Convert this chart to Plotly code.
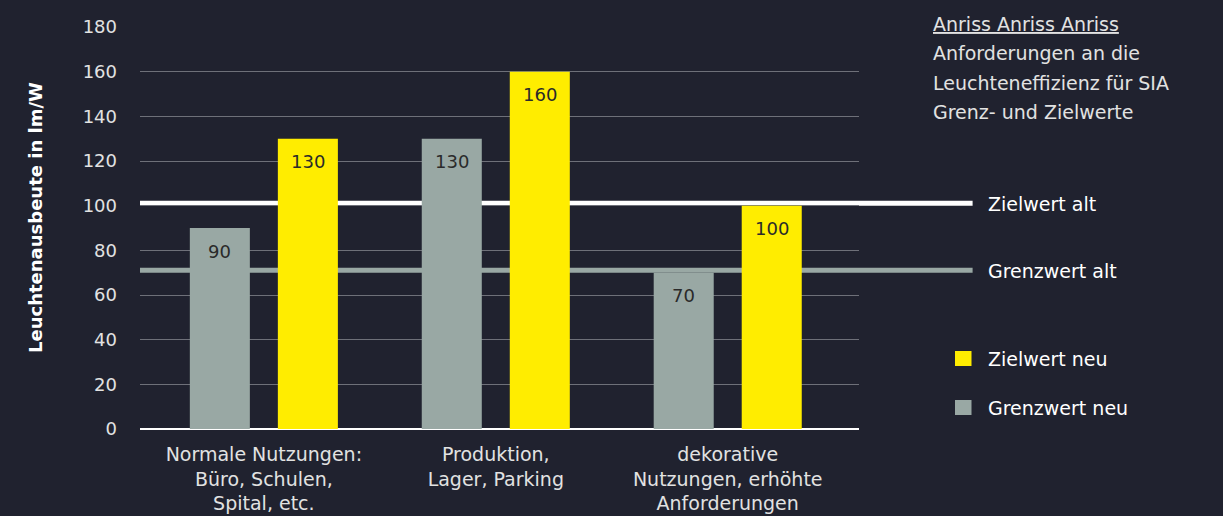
import plotly.graph_objects as go

categories = ["Normale Nutzungen:<br>Büro, Schulen,<br>Spital, etc.",
              "Produktion,<br>Lager, Parking",
              "dekorative<br>Nutzungen, erhöhte<br>Anforderungen"]
grenzwert_neu = [90, 130, 70]
zielwert_neu = [130, 160, 100]
zielwert_alt = 100
grenzwert_alt = 70
y_ticks = [0, 20, 40, 60, 80, 100, 120, 140, 160, 180]
title_lines = ["<u>Anriss Anriss Anriss</u>", "Anforderungen an die",
               "Leuchteneffizienz für SIA", "Grenz- und Zielwerte"]

YELLOW = "#ffed00"
GREY = "#99a8a4"
BG = "#20222f"
TXT = "#e2e2e2"
FONT = "DejaVu Sans"

fig = go.Figure()
fig.add_trace(go.Bar(x=categories, y=grenzwert_neu, name="Grenzwert neu",
                     marker=dict(color=GREY, line=dict(width=0)), showlegend=False))
fig.add_trace(go.Bar(x=categories, y=zielwert_neu, name="Zielwert neu",
                     marker=dict(color=YELLOW, line=dict(width=0)), showlegend=False))

annotations = []
for i, c in enumerate(categories):
    for vals, off in ((grenzwert_neu, -0.19), (zielwert_neu, 0.19)):
        annotations.append(dict(x=i + off, y=vals[i], xref="x", yref="y", text=str(vals[i]),
                                showarrow=False, yshift=-23, yanchor="middle",
                                font=dict(family=FONT, size=18, color="#2a2a2a")))

# reference lines (drawn between gridlines and bars)
shapes = []
for val, col in ((zielwert_alt, "white"), (grenzwert_alt, GREY)):
    shapes.append(dict(type="rect", xref="paper", x0=0, x1=1.158, yref="y",
                       ysizemode="pixel", yanchor=val, y0=0, y1=5,
                       fillcolor=col, line=dict(width=0), layer="between"))

px_x = lambda px: (px - 140) / 719
px_y = lambda py: (429 - py) / 402

lab = dict(showarrow=False, xanchor="left", yanchor="middle")
annotations += [
    dict(x=px_x(986), y=zielwert_alt, xref="paper", yref="y", yshift=2, text="Zielwert alt",
         font=dict(family=FONT, size=19, color="white"), **lab),
    dict(x=px_x(986), y=grenzwert_alt, xref="paper", yref="y", yshift=2, text="Grenzwert alt",
         font=dict(family=FONT, size=19, color="white"), **lab),
    dict(x=px_x(986), y=px_y(359), xref="paper", yref="paper", text="Zielwert neu",
         font=dict(family=FONT, size=19, color="white"), **lab),
    dict(x=px_x(986), y=px_y(408), xref="paper", yref="paper", text="Grenzwert neu",
         font=dict(family=FONT, size=19, color="white"), **lab),
]
for k, t in enumerate(title_lines):
    annotations.append(dict(x=px_x(931), y=px_y(24 + 29.3 * k), xref="paper", yref="paper",
                            text=t, font=dict(family=FONT, size=19, color=TXT), **lab))
annotations.append(dict(x=px_x(35), y=px_y(218), xref="paper", yref="paper",
                        text="<b>Leuchtenausbeute in lm/W</b>", textangle=-90,
                        showarrow=False, xanchor="center", yanchor="middle",
                        font=dict(family=FONT, size=18, color="white")))
shapes += [
    dict(type="rect", xref="paper", yref="paper", x0=px_x(955), x1=px_x(971.5),
         y0=px_y(366), y1=px_y(351), fillcolor=YELLOW, line=dict(width=0)),
    dict(type="rect", xref="paper", yref="paper", x0=px_x(955), x1=px_x(971.5),
         y0=px_y(415), y1=px_y(400), fillcolor=GREY, line=dict(width=0)),
]

fig.update_layout(
    width=1223, height=516,
    margin=dict(l=140, r=1223 - 859, t=27, b=87, autoexpand=False),
    paper_bgcolor=BG, plot_bgcolor="rgba(0,0,0,0)",
    barmode="group", bargap=0.241, bargroupgap=0.318,
    font=dict(family=FONT, size=18, color=TXT),
    shapes=shapes, annotations=annotations,
    xaxis=dict(range=[-0.534, 2.566], showgrid=False, zeroline=False, showline=False,
               tickfont=dict(family=FONT, size=19, color=TXT), ticks="",
               ticklabelstandoff=12, fixedrange=True, automargin=False),
    yaxis=dict(range=[0, 180], tickvals=y_ticks, showgrid=True, gridcolor="#6e7079",
               gridwidth=1, zeroline=True, zerolinecolor="white", zerolinewidth=2,
               tickfont=dict(family=FONT, size=18, color=TXT), ticklabelstandoff=22,
               fixedrange=True, automargin=False),
)

fig.write_html("out.html", config={"displayModeBar": False},
               post_script="document.body.style.margin='0';")
